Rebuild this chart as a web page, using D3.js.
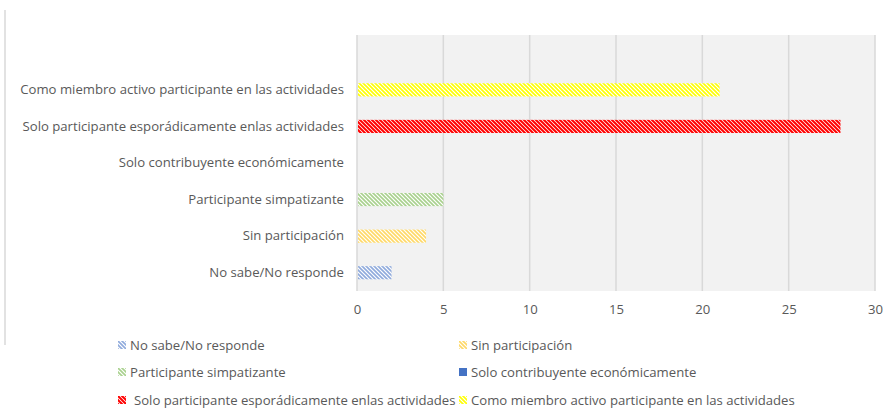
<!DOCTYPE html>
<html lang="es">
<head>
<meta charset="UTF-8">
<title>Participación</title>
<script src="https://d3js.org/d3.v7.min.js"></script>
<style>
  body { margin: 0; background: white; }
  svg { display: block; }
  text { font-family: "Open Sans", "Liberation Sans", sans-serif; fill: #595959; }
</style>
</head>
<body>
<svg id="chart"></svg>
<script>
const width = 888, height = 418;

// datos (de abajo hacia arriba)
const categories = [
  "No sabe/No responde",
  "Sin participación",
  "Participante simpatizante",
  "Solo contribuyente económicamente",
  "Solo participante esporádicamente enlas actividades",
  "Como miembro activo participante en las actividades",
  ""
];
const values = [2, 4, 5, 0, 28, 21, null];
const colors = ["#8FAADC", "#FFD966", "#A9D18E", "#4472C4", "#FF0000", "#FFFF00"];
const legendLabels = categories.slice(0, 6);
const xTicks = [0, 5, 10, 15, 20, 25, 30];

const fontSize = "13.15px";

const svg = d3.select("#chart").attr("width", width).attr("height", height);

// patrones rayados
const defs = svg.append("defs");
colors.forEach((c, i) => {
  const p = defs.append("pattern")
    .attr("id", "pat" + i)
    .attr("patternUnits", "userSpaceOnUse")
    .attr("width", 4).attr("height", 4);
  p.append("rect").attr("width", 4).attr("height", 4).attr("fill", "white");
  p.append("path")
    .attr("d", "M-1,-1L5,5M3,-1L5,1M-1,3L1,5")
    .attr("stroke", c)
    .attr("stroke-width", i === 4 ? 2 : 1.6);
});

// borde izquierdo del marco
svg.append("line")
  .attr("x1", 5).attr("x2", 5).attr("y1", 10).attr("y2", 345)
  .attr("stroke", "#d9d9d9").attr("stroke-width", 1.5);

const plot = { left: 357, right: 875, top: 35, bottom: 291 };

const x = d3.scaleLinear().domain([0, 30]).range([plot.left, plot.right]);
const y = d3.scaleBand().domain(categories.slice().reverse())
  .range([plot.top, plot.bottom]).paddingInner(0.64).paddingOuter(0.32);

svg.append("rect")
  .attr("x", plot.left).attr("y", plot.top)
  .attr("width", plot.right - plot.left).attr("height", plot.bottom - plot.top)
  .attr("fill", "#f2f2f2");

// rejilla
svg.append("g").selectAll("line").data(xTicks).join("line")
  .attr("x1", d => x(d)).attr("x2", d => x(d))
  .attr("y1", plot.top).attr("y2", plot.bottom)
  .attr("stroke", "#d9d9d9").attr("stroke-width", 1.5);

// barras
svg.append("g").selectAll("rect")
  .data(categories.map((c, i) => ({ c, v: values[i], i })).filter(d => d.v > 0))
  .join("rect")
  .attr("x", x(0) + 1)
  .attr("y", d => y(d.c))
  .attr("width", d => x(d.v) - x(0) - 1)
  .attr("height", y.bandwidth())
  .attr("fill", d => `url(#pat${d.i})`);

// eje x
const xAxis = svg.append("g")
  .attr("transform", `translate(0,${plot.bottom})`)
  .call(d3.axisBottom(x).tickValues(xTicks).tickSize(0).tickPadding(14));
xAxis.select(".domain").remove();
xAxis.selectAll("text").style("font-size", fontSize).attr("fill", "#595959");

// eje y
const yAxis = svg.append("g")
  .attr("transform", `translate(${plot.left},0)`)
  .call(d3.axisLeft(y).tickSize(0).tickPadding(13));
yAxis.select(".domain").remove();
yAxis.selectAll("text").style("font-size", fontSize).attr("fill", "#595959");

// leyenda
const legendPos = [
  [118, 345], [459, 345],
  [118, 372], [459, 372],
  [118, 400], [459, 400]
];
const legend = svg.append("g").selectAll("g").data(legendLabels).join("g")
  .attr("transform", (d, i) => `translate(${legendPos[i][0]},${legendPos[i][1]})`);
legend.append("rect")
  .attr("x", 0).attr("y", -4).attr("width", 8).attr("height", 8)
  .attr("fill", (d, i) => i === 3 ? colors[3] : `url(#pat${i})`);
legend.append("text")
  .attr("x", (d, i) => i === 4 ? 16 : 12)
  .attr("dy", "0.35em")
  .style("font-size", fontSize)
  .text(d => d);
</script>
</body>
</html>
